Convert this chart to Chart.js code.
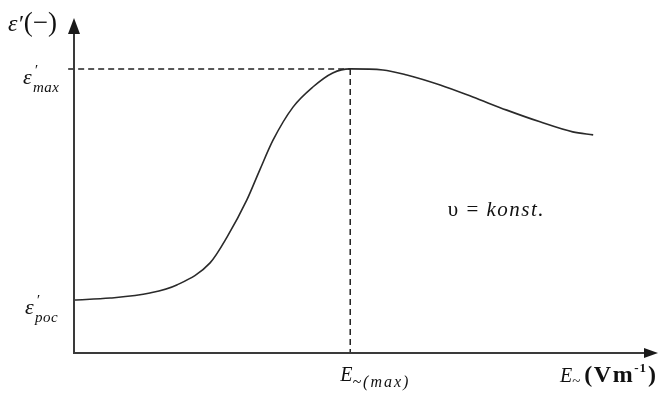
<!DOCTYPE html>
<html>
<head>
<meta charset="utf-8">
<title>ε′ vs E~</title>
<script src="https://cdn.jsdelivr.net/npm/chart.js@4.4.1/dist/chart.umd.min.js"></script>
<style>
    html, body { margin: 0; padding: 0; background: #fff; }
    #wrap { width: 669px; height: 394px; }
</style>
</head>
<body>
<div id="wrap"><canvas id="chart" width="669" height="394"></canvas></div>
<script>
// field strength (arbitrary units, 0..10 along the axis)
let fieldValues = [0.0, 0.62, 1.30, 1.76, 2.33, 2.62, 2.96, 3.18, 3.41, 3.75, 4.09, 4.43, 4.73, 5.29, 5.70, 6.27, 6.83, 7.41, 7.98, 8.54, 8.89];
// relative permittivity (arbitrary units, 0..10)
let epsValues = [1.58, 1.64, 1.79, 2.03, 2.69, 3.46, 4.57, 5.46, 6.36, 7.34, 7.94, 8.36, 8.48, 8.45, 8.30, 8.00, 7.64, 7.25, 6.90, 6.60, 6.51];

let eMax = 4.73;
let epsMax = 8.48;
let epsPoc = epsValues[0];

let curve = fieldValues.map(function(x, i) { return { x: x, y: epsValues[i] }; });

const serif = '"Liberation Serif", "DejaVu Serif", serif';

// draw a row of text pieces one after another, each with its own font, spacing and vertical shift
function drawRuns(ctx, x, y, runs) {
    runs.forEach(function(r) {
        ctx.font = r.font;
        ctx.letterSpacing = (r.ls || 0) + 'px';
        ctx.fillText(r.t, x + (r.dx || 0), y + (r.dy || 0));
        x += ctx.measureText(r.t).width + (r.dx || 0);
    });
    ctx.letterSpacing = '0px';
}

const axesAndLabels = {
    id: 'axesAndLabels',
    afterDraw(chart) {
        let ctx = chart.ctx;
        let a = chart.chartArea;
        let xs = chart.scales.x;
        let ys = chart.scales.y;

        ctx.save();
        // axes
        ctx.strokeStyle = '#3a3a3a';
        ctx.fillStyle = '#1a1a1a';
        ctx.lineWidth = 2;
        ctx.beginPath();
        ctx.moveTo(a.left, a.top + 8);
        ctx.lineTo(a.left, a.bottom);
        ctx.lineTo(a.right - 8, a.bottom);
        ctx.stroke();

        // arrow heads
        ctx.beginPath();
        ctx.moveTo(a.left, a.top);
        ctx.lineTo(a.left - 6, a.top + 16);
        ctx.lineTo(a.left + 6, a.top + 16);
        ctx.closePath();
        ctx.fill();
        ctx.beginPath();
        ctx.moveTo(a.right, a.bottom);
        ctx.lineTo(a.right - 14, a.bottom - 5);
        ctx.lineTo(a.right - 14, a.bottom + 5);
        ctx.closePath();
        ctx.fill();

        ctx.fillStyle = '#111';
        ctx.textBaseline = 'alphabetic';
        ctx.textAlign = 'left';

        // y axis title
        drawRuns(ctx, 8, 31, [
            { t: 'ε′', font: 'italic 24px ' + serif },
            { t: '(−)', font: '27px ' + serif, dx: 1 }
        ]);

        // y ticks
        let yMax = ys.getPixelForValue(epsMax);
        drawRuns(ctx, 23, yMax + 15, [{ t: 'ε', font: 'italic 22px ' + serif }]);
        drawRuns(ctx, 34, yMax + 6, [{ t: '′', font: 'italic 15px ' + serif }]);
        drawRuns(ctx, 33, yMax + 23, [{ t: 'max', font: 'italic 15px ' + serif, ls: 0.5 }]);

        let yPoc = ys.getPixelForValue(epsPoc);
        drawRuns(ctx, 25, yPoc + 14, [{ t: 'ε', font: 'italic 22px ' + serif }]);
        drawRuns(ctx, 36, yPoc + 5, [{ t: '′', font: 'italic 15px ' + serif }]);
        drawRuns(ctx, 35, yPoc + 22, [{ t: 'poc', font: 'italic 15px ' + serif, ls: 0.5 }]);

        // x tick
        let xMaxPix = xs.getPixelForValue(eMax);
        drawRuns(ctx, xMaxPix - 10, a.bottom + 28, [
            { t: 'E', font: 'italic 20px ' + serif },
            { t: '~(max)', font: 'italic 16px ' + serif, dy: 6, ls: 2 }
        ]);

        // x axis title
        drawRuns(ctx, 560, a.bottom + 29, [
            { t: 'E', font: 'italic 20px ' + serif },
            { t: '~', font: '15px ' + serif, dy: 4 },
            { t: '(Vm', font: 'bold 24px ' + serif, dx: 4, ls: 1.5 },
            { t: '-1', font: 'bold 13px ' + serif, dy: -10, ls: 1 },
            { t: ')', font: 'bold 24px ' + serif, dx: 1 }
        ]);

        // note inside the plot
        drawRuns(ctx, xs.getPixelForValue(6.4), ys.getPixelForValue(4.1), [
            { t: 'υ = ', font: '21px ' + serif, ls: 1.5 },
            { t: 'konst.', font: 'italic 21px ' + serif, ls: 1.5 }
        ]);
        ctx.restore();
    }
};

new Chart(document.getElementById('chart'), {
    type: 'line',
    data: {
        datasets: [{
            data: curve,
            borderColor: '#2a2a2a',
            borderWidth: 1.6,
            pointRadius: 0,
            cubicInterpolationMode: 'monotone',
            fill: false
        }, {
            data: [{ x: -0.1, y: epsMax }, { x: eMax, y: epsMax }],
            borderColor: '#222',
            borderWidth: 1.5,
            borderDash: [6, 4],
            pointRadius: 0,
            fill: false
        }, {
            data: [{ x: eMax, y: epsMax }, { x: eMax, y: 0 }],
            borderColor: '#222',
            borderWidth: 1.5,
            borderDash: [6, 4],
            pointRadius: 0,
            fill: false
        }]
    },
    options: {
        responsive: false,
        animation: false,
        clip: false,
        layout: {
            padding: { left: 74, right: 11, top: 18, bottom: 41 }
        },
        plugins: {
            legend: { display: false },
            tooltip: { enabled: false }
        },
        scales: {
            x: { type: 'linear', min: 0, max: 10, display: false },
            y: { type: 'linear', min: 0, max: 10, display: false }
        }
    },
    plugins: [axesAndLabels]
});
</script>
</body>
</html>
